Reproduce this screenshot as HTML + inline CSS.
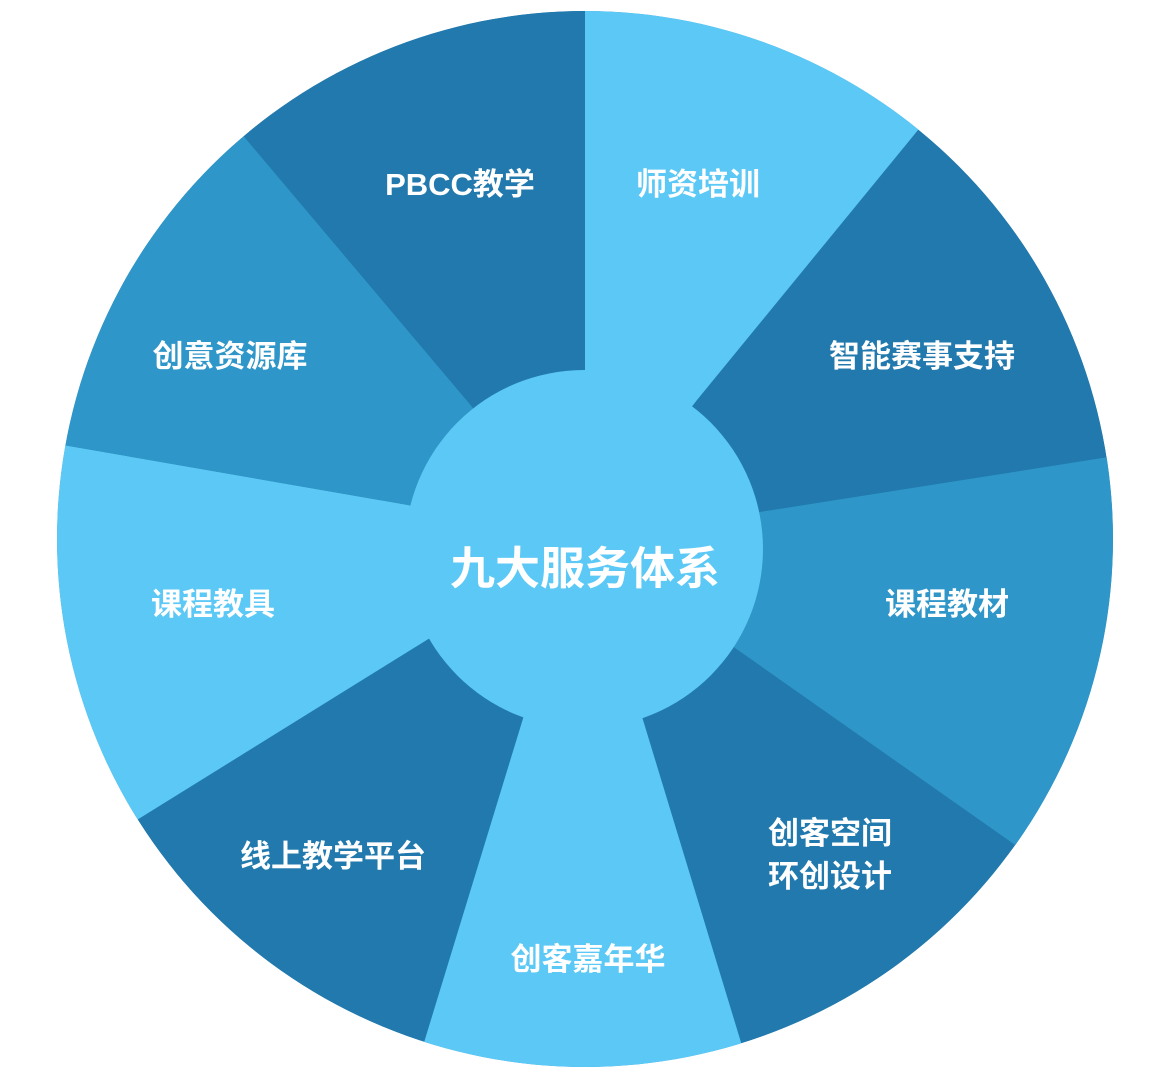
<!DOCTYPE html>
<html><head><meta charset="utf-8"><style>
html,body{margin:0;padding:0;background:#fff;width:1166px;height:1072px;overflow:hidden;}
svg{display:block;}
text{font-family:"Liberation Sans","Noto Sans CJK SC",sans-serif;font-weight:bold;fill:#fff;text-anchor:middle;}
</style></head><body>
<svg width="1166" height="1072" viewBox="0 0 1166 1072" xmlns="http://www.w3.org/2000/svg">
<defs><clipPath id="c"><circle cx="585" cy="539" r="528"/></clipPath></defs>
<g clip-path="url(#c)">
<circle cx="585" cy="539" r="528" fill="#2179ad"/>
<polygon points="585,545 468,402 148,23 585,0 585,370" fill="#2179ad"/>
<polygon points="585,545 585,370 585,0 1013,14 697,400" fill="#5bc8f5"/>
<polygon points="585,545 760,512 1166,448 1166,951 735,648" fill="#2e96c8"/>
<polygon points="585,545 640,710 750,1072 415,1072 525,712" fill="#5bc8f5"/>
<polygon points="585,545 430,638 0,905 0,434 408,505" fill="#5bc8f5"/>
<polygon points="585,545 408,505 0,434 0,40 148,23 468,402" fill="#2e96c8"/>
</g>
<circle cx="584" cy="549" r="179" fill="#5bc8f5"/>
<g font-size="31">
<text x="460" y="195">PBCC教学</text>
<text x="698" y="195">师资培训</text>
<text x="922" y="367">智能赛事支持</text>
<text x="230" y="367">创意资源库</text>
<text x="213" y="615">课程教具</text>
<text x="947" y="615">课程教材</text>
<text x="830" y="844">创客空间</text>
<text x="830" y="887">环创设计</text>
<text x="333" y="867">线上教学平台</text>
<text x="588" y="970">创客嘉年华</text>
</g>
<text x="585" y="584" font-size="45">九大服务体系</text>
</svg>
</body></html>
